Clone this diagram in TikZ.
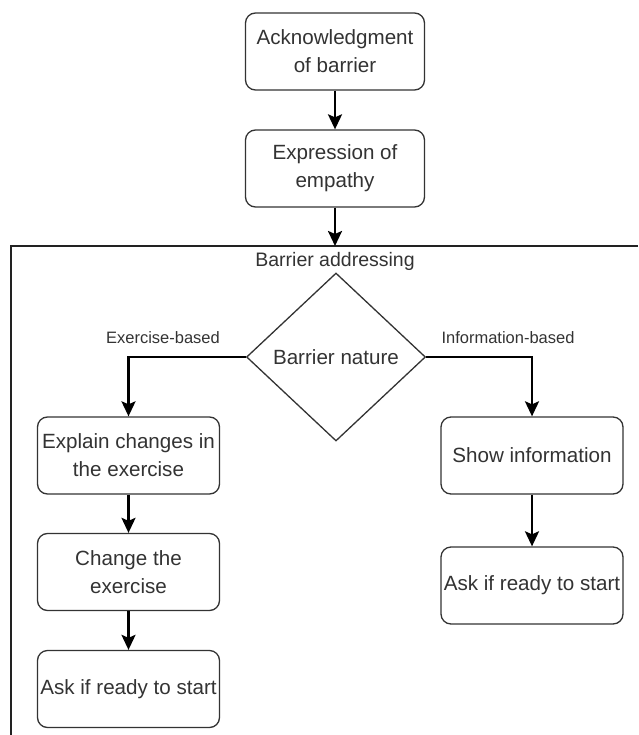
\documentclass[tikz,border=0pt]{standalone}
\usepackage{fontspec}
\setmainfont{Liberation Sans}
\usetikzlibrary{arrows.meta,shapes.geometric}
\definecolor{ink}{HTML}{333333}
\definecolor{edge}{HTML}{222222}
\begin{document}
\begin{tikzpicture}[x=1pt,y=-1pt,
  stepbox/.style={draw=ink,line width=1.3pt,rounded corners=10pt,fill=white,
    minimum width=182pt,minimum height=77pt,inner sep=0pt,align=center,
    text=ink,font=\fontsize{20.6}{28}\selectfont},
  decision/.style={draw=ink,line width=1.3pt,diamond,aspect=1.07,
    minimum width=179pt,minimum height=168pt,inner sep=0pt,align=center,
    text=ink,font=\fontsize{20.6}{28}\selectfont},
  flow/.style={draw=black,line width=2.5pt,
    -{Stealth[length=15pt,width=14pt,inset=3pt]}},
  branchlabel/.style={text=ink,font=\fontsize{16.5}{20}\selectfont,inner sep=0pt},
  grouplabel/.style={text=ink,font=\fontsize{19.5}{24}\selectfont,inner sep=0pt}]
\useasboundingbox (0,0) rectangle (638,735);

% opening steps
\node[stepbox,minimum width=179pt] (ack) at (335,51.5) {Acknowledgment\\of barrier};
\node[stepbox,minimum width=179pt] (emp) at (335,168.5) {Expression of\\empathy};

% container of the barrier addressing part
\coordinate (gtop) at (335,246);
\draw[edge,line width=1.3pt] (638,246) -- (11,246) -- (11,735);
\node[grouplabel] (glabel) at (335,261) {Barrier addressing};

% decision
\node[decision] (nat) at (336,357) {Barrier nature};

% exercise-based branch
\node[stepbox] (exp) at (128.5,455.5) {Explain changes in\\the exercise};
\node[stepbox] (chg) at (128.5,572) {Change the\\exercise};
\node[stepbox] (askl) at (128.5,689) {Ask if ready to start};

% information-based branch
\node[stepbox] (show) at (532,455.5) {Show information};
\node[stepbox] (askr) at (532,585.5) {Ask if ready to start};

% connectors
\draw[flow] (ack) -- (emp);
\draw[flow] (emp) -- (gtop);
\draw[flow] (nat.west) -| (exp.north);
\draw[flow] (nat.east) -| (show.north);
\draw[flow] (exp) -- (chg);
\draw[flow] (chg) -- (askl);
\draw[flow] (show) -- (askr);

% branch labels
\node[branchlabel] (lex) at (163,338) {Exercise-based};
\node[branchlabel] (linf) at (508,338) {Information-based};
\end{tikzpicture}
\end{document}
